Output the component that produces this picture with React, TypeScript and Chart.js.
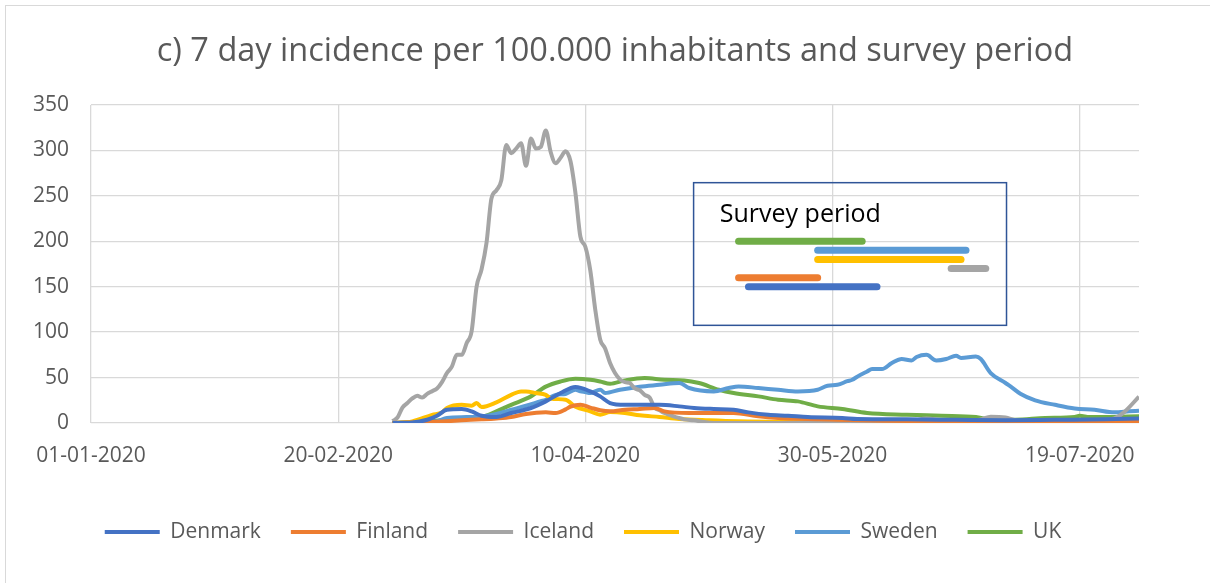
import React, { useEffect, useRef } from "react";
import { Chart, registerables } from "chart.js";

Chart.register(...registerables);

// ---- data (x = days since 01-01-2020) ----
const tickLabels = ["01-01-2020", "20-02-2020", "10-04-2020", "30-05-2020", "19-07-2020"];
const countries = ["Denmark", "Finland", "Iceland", "Norway", "Sweden", "UK"];
const colors = ["#4472C4", "#ED7D31", "#A5A5A5", "#FFC000", "#5B9BD5", "#70AD47"];

const denmarkDays = [61, 65, 68, 70, 72, 75, 77, 79, 82, 85, 89, 92, 95, 98, 101, 103, 105, 108, 111, 115, 119, 122, 126, 130, 133, 137, 141, 145, 152, 155, 165, 175, 185, 195, 205, 212];
const denmarkValues = [0, 0.5, 3.6, 8, 14.6, 15.4, 12.8, 8, 6.6, 11, 16.5, 23.8, 33, 39.6, 34.8, 29.3, 22, 20, 20, 20, 18.3, 16.5, 15.4, 14.6, 11.7, 9.1, 8, 6.6, 5.5, 4.4, 4, 3.5, 3, 3.5, 4, 5];

const finlandDays = [61, 65, 70, 75, 79, 82, 85, 88, 92, 94, 96, 97, 99, 101, 103, 105, 108, 111, 114, 116, 121, 126, 130, 135, 139, 145, 151, 160, 170, 180, 190, 200, 212];
const finlandValues = [0, 0.5, 1.5, 3, 4, 5, 6.6, 10, 11.7, 11, 15, 18, 20, 17, 14, 12.8, 14.6, 15.4, 16.5, 12.8, 11, 11, 11, 7.3, 5.5, 4.4, 3.6, 2.5, 2, 1.5, 1, 1, 1];

const icelandDays = [61, 62, 63, 64, 65, 66, 67, 68, 69, 70, 71, 72, 73, 74, 75, 76, 77, 78, 79, 80, 81, 82, 83, 84, 85, 86, 87, 88, 89, 90, 91, 92, 93, 94, 95, 96, 97, 98, 99, 100, 101, 102, 103, 104, 105, 106, 107, 108, 109, 110, 111, 112, 113, 114, 115, 116, 117, 118, 119, 120, 122, 124, 126, 140, 150, 160, 166, 169, 172, 176, 180, 182, 185, 187, 190, 195, 200, 204, 207, 209, 212];
const icelandValues = [2, 6, 17, 22, 27, 30, 28, 32, 35, 38, 45, 55, 62, 75, 75, 88, 101, 150, 169, 198, 247, 256, 267, 306, 297, 302, 308, 283, 313, 302, 304, 322, 298, 286, 292, 299, 288, 253, 205, 194, 168, 125, 92, 82, 66, 55, 48, 45, 44, 38, 36, 31, 28, 17, 14, 11, 9, 7, 5.5, 4, 3, 1, 0, 0, 0.5, 1, 2, 5, 3, 1, 4, 7, 6, 3, 2, 2, 3, 3, 5, 12, 29];

const norwayDays = [61, 65, 69, 71, 72, 75, 77, 78, 79, 82, 85, 87, 88, 90, 92, 93, 96, 98, 101, 103, 105, 108, 111, 115, 119, 125, 131, 140, 160, 180, 200, 212];
const norwayValues = [0, 1.8, 9, 11.7, 16.5, 20, 19, 22, 17.5, 22.7, 31, 34.8, 34.8, 33, 31, 27, 25.6, 18, 12.8, 9.1, 12, 11, 8.5, 6.6, 4.4, 2.9, 1.8, 1.2, 1, 1, 1, 1.5];

const swedenDays = [61, 64, 67, 70, 72, 76, 79, 82, 85, 88, 91, 92, 94, 96, 98, 99, 100, 101, 103, 104, 107, 111, 115, 119, 121, 126, 129, 131, 135, 139, 143, 147, 149, 151, 153, 154, 155, 157, 158, 160, 162, 164, 166, 167, 169, 171, 173, 175, 176, 179, 180, 182, 185, 186, 188, 191, 195, 199, 203, 207, 210, 212];
const swedenValues = [0, 0.5, 1, 2, 5.5, 6.5, 7.3, 10, 14.6, 19, 24, 25.6, 31, 32, 36.6, 35, 34, 33, 36.6, 33, 36.6, 40, 42, 44, 38.5, 34.8, 38.5, 40.3, 38.5, 36.6, 34.8, 36.6, 41, 42, 46, 47.6, 51, 56.7, 59.4, 59.4, 66, 70.4, 68.8, 72.6, 75, 68.8, 70.4, 74, 71.5, 73.2, 70.4, 55, 44, 40.3, 32.2, 24.9, 20, 16, 14.6, 11.7, 12.8, 13.5];

const ukDays = [61, 68, 72, 79, 82, 85, 89, 92, 95, 98, 101, 103, 105, 108, 112, 116, 120, 123, 127, 130, 135, 139, 143, 147, 152, 157, 165, 172, 179, 182, 187, 193, 199, 200, 202, 212];
const ukValues = [0, 1.5, 3.6, 6.6, 12.8, 20, 29.3, 40, 45.7, 48.6, 47.6, 45.7, 43.2, 46.9, 49.5, 47.6, 46.9, 44, 36.6, 33, 29.3, 25.6, 23.8, 18.3, 15.4, 11, 9.1, 8, 6.6, 3.6, 3.6, 5.5, 6.6, 8, 6.6, 7.3];

// Survey period bars (order as drawn top to bottom)
const surveyCountries = ["UK", "Sweden", "Norway", "Iceland", "Finland", "Denmark"];
const surveyStart = [131, 147, 147, 174, 131, 133];
const surveyEnd = [156, 177, 176, 181, 147, 159];
const surveyLevel = [200, 190, 180, 170, 160, 150];

const seriesDays = [denmarkDays, finlandDays, icelandDays, norwayDays, swedenDays, ukDays];
const seriesValues = [denmarkValues, finlandValues, icelandValues, norwayValues, swedenValues, ukValues];

const FONT = "'Open Sans', sans-serif";
const TEXT = "#595959";
const GRID = "#d9d9d9";

// inset box (in data coordinates)
const BOX = { x0: 121.9, x1: 185.2, yTop: 264.5, yBottom: 107.5, textX: 127.2, textY: 221 };

const boxPlugin = {
  id: "surveyBox",
  afterDatasetsDraw(chart: any) {
    const { ctx, scales } = chart;
    const x = scales.x;
    const y = scales.y;
    const l = x.getPixelForValue(BOX.x0);
    const r = x.getPixelForValue(BOX.x1);
    const t = y.getPixelForValue(BOX.yTop);
    const b = y.getPixelForValue(BOX.yBottom);
    ctx.save();
    ctx.strokeStyle = "#2F5597";
    ctx.lineWidth = 1.5;
    ctx.strokeRect(l, t, r - l, b - t);
    ctx.fillStyle = "#000000";
    ctx.font = `25px ${FONT}`;
    ctx.textAlign = "left";
    ctx.textBaseline = "alphabetic";
    ctx.fillText("Survey period", x.getPixelForValue(BOX.textX), y.getPixelForValue(BOX.textY));
    ctx.restore();
  },
};

export default function App() {
  const ref = useRef<HTMLCanvasElement | null>(null);

  useEffect(() => {
    document.body.style.margin = "0";
    const canvas = ref.current;
    if (!canvas) return;

    const datasets: any[] = countries.map((name, i) => ({
      label: name,
      data: seriesDays[i].map((d, j) => ({ x: d, y: seriesValues[i][j] })),
      borderColor: colors[i],
      backgroundColor: colors[i],
      borderWidth: 4,
      pointRadius: 0,
      cubicInterpolationMode: "monotone",
      fill: false,
    }));

    surveyCountries.forEach((name, i) => {
      const c = colors[countries.indexOf(name)];
      datasets.push({
        label: "survey-" + name,
        data: [
          { x: surveyStart[i], y: surveyLevel[i] },
          { x: surveyEnd[i], y: surveyLevel[i] },
        ],
        borderColor: c,
        backgroundColor: c,
        borderWidth: 7,
        borderCapStyle: "round",
        pointRadius: 0,
        fill: false,
      });
    });

    const chart = new Chart(canvas, {
      type: "line",
      data: { datasets },
      options: {
        responsive: false,
        animation: false,
        layout: { padding: { left: 27, right: 71, top: 0, bottom: 30.5 } },
        scales: {
          x: {
            type: "linear",
            min: 0,
            max: 212,
            afterFit: (s: any) => {
              s.height = 68.5;
            },
            ticks: {
              stepSize: 50,
              includeBounds: false,
              autoSkip: false,
              maxRotation: 0,
              padding: 20,
              color: TEXT,
              font: { family: FONT, size: 21 },
              callback: (v: any) => tickLabels[Math.round(Number(v) / 50)] ?? "",
            },
            grid: { color: GRID, lineWidth: 1.3, drawTicks: false },
            border: { display: false },
          },
          y: {
            min: 0,
            max: 350,
            afterFit: (s: any) => {
              s.width = 64;
            },
            ticks: {
              stepSize: 50,
              padding: 22,
              color: TEXT,
              font: { family: FONT, size: 21 },
            },
            grid: { color: GRID, lineWidth: 1.3, drawTicks: false },
            border: { display: false },
          },
        },
        plugins: {
          title: {
            display: true,
            text: "c) 7 day incidence per 100.000 inhabitants and survey period",
            fullSize: false,
            color: TEXT,
            font: { family: FONT, size: 32.5, weight: "normal" },
            padding: { top: 32, bottom: 34 },
          },
          legend: {
            position: "bottom",
            labels: {
              boxWidth: 55,
              boxHeight: 4,
              padding: 30,
              color: TEXT,
              font: { family: FONT, size: 21 },
              generateLabels: (ch: any) =>
                Chart.defaults.plugins.legend.labels
                  .generateLabels(ch)
                  .filter((it: any) => it.datasetIndex < countries.length)
                  .map((it: any) => ({ ...it, lineWidth: 0 })),
            },
          },
          tooltip: { enabled: false },
        },
      } as any,
      plugins: [boxPlugin],
    });

    return () => chart.destroy();
  }, []);

  return (
    <div style={{ position: "relative", width: 1210, height: 583, overflow: "hidden", background: "#fff" }}>
      <div
        style={{
          position: "absolute",
          left: 5,
          top: 5,
          width: 1300,
          height: 700,
          borderLeft: "1px solid #d9d9d9",
          borderTop: "1.5px solid #d9d9d9",
        }}
      />
      <canvas ref={ref} width={1210} height={583} style={{ position: "absolute", left: 0, top: 0, display: "block" }} />
    </div>
  );
}
